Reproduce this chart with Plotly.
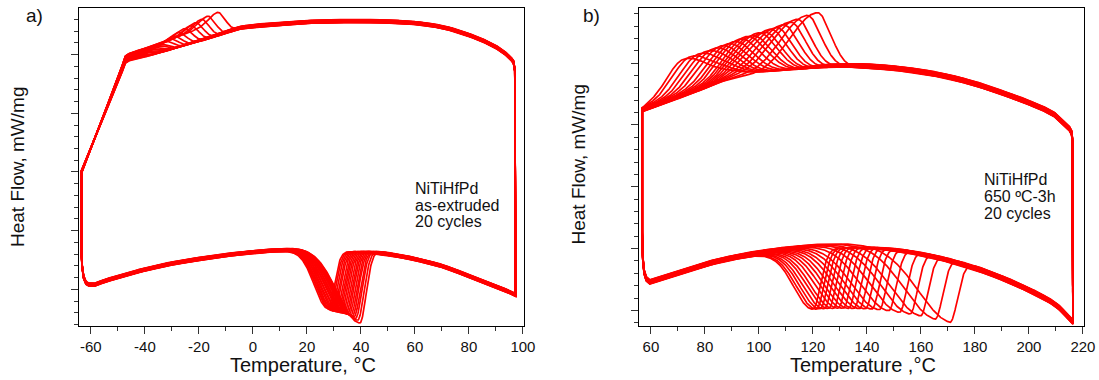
import numpy as np
import plotly.graph_objects as go

# ---------------- Panel a) NiTiHfPd as-extruded ----------------
a_heat_T = [-60.8, -59.5, -55, -50, -40, -30, -20, -10, 0, 10, 20, 30, 40, 50, 60, 70, 80, 90, 97.3]
a_heat_hf = [-1.917, -1.925, -1.857, -1.789, -1.661, -1.559, -1.482, -1.414, -1.363, -1.329, -1.312,
             -1.320, -1.346, -1.397, -1.482, -1.601, -1.772, -1.942, -2.095]
a_cool_T = [-63.5, -55, -48.5, -47, -40, -30, -20, -10, -5, 0, 10, 20, 30, 40, 50, 60, 70, 80, 90, 95, 95.8]
a_cool_hf = [0.000, 0.939, 1.657, 1.823, 1.923, 2.073, 2.225, 2.375, 2.453, 2.487, 2.521, 2.555, 2.572,
             2.572, 2.564, 2.538, 2.470, 2.334, 2.129, 1.959, 1.917]
a_left_T = [-63.5, -63.3, -62.7, -61.8]
a_left_hf = [-1.329, -1.584, -1.789, -1.891]
a_right_T = [97.0, 96.5]
a_right_hf = [1.738, 1.874]
# exothermic (cooling) peaks: temperature and peak heat flow per cycle
a_exo_T = [-13.3, -17.0, -19.3, -21.5, -23.3, -25.6, -27.8, -29.5, -31.0, -32.5, -34.0, -35.0, -36.0,
           -37.0, -38.0, -39.0, -40.0, -41.0, -42.0, -43.0]
a_exo_hf = [2.743, 2.675, 2.618, 2.560, 2.504, 2.453, 2.385, 2.320, 2.271, 2.220, 2.172, 2.140, 2.107,
            2.077, 2.044, 2.012, 1.983, 1.959, 1.935, 1.911]
# endothermic (heating) peaks: temperature and minimum heat flow per cycle
a_endo_T = [27.8, 28.4, 29.0, 29.6, 30.2, 30.8, 31.4, 32.0, 32.6, 33.2, 33.8, 34.4, 35.0, 35.6, 36.2,
            36.8, 37.4, 38.0, 38.8, 39.6]
a_endo_hf = [-2.300, -2.317, -2.334, -2.351, -2.359, -2.368, -2.376, -2.385, -2.393, -2.402, -2.411,
             -2.419, -2.428, -2.436, -2.453, -2.470, -2.487, -2.513, -2.547, -2.598]
a_endo_wl = [5.0, 5.1, 5.3, 5.4, 5.6, 5.7, 5.9, 6.0, 6.2, 6.3, 6.5, 6.6, 6.8, 6.9, 7.1, 7.3, 7.5, 7.7,
             7.9, 8.2]
a_shift = [-0.025, -0.022, -0.020, -0.017, -0.015, -0.012, -0.009, -0.007, -0.004, -0.001, 0.001,
           0.004, 0.007, 0.009, 0.012, 0.015, 0.017, 0.020, 0.022, 0.025]
a_xticks = [-60, -40, -20, 0, 20, 40, 60, 80, 100]
a_xlabels = ["-60", "-40", "-20", "0", "20", "40", "60", "80", "100"]

# ---------------- Panel b) NiTiHfPd 650 ºC-3h ----------------
b_heat_T = [59.6, 62, 65, 70, 75, 80, 85, 90, 100, 110, 120, 130, 140, 150, 160, 170, 180, 190, 200,
            210, 216.3]
b_heat_hf = [-1.540, -1.507, -1.459, -1.386, -1.321, -1.256, -1.199, -1.151, -1.070, -1.013, -0.972,
             -0.956, -0.964, -1.005, -1.078, -1.183, -1.313, -1.475, -1.669, -1.912, -2.188]
b_cool_T = [56.8, 63, 70, 80, 90, 94, 100, 110, 120, 130, 140, 150, 160, 170, 180, 190, 200, 210, 215]
b_cool_hf = [1.248, 1.345, 1.459, 1.621, 1.783, 1.807, 1.820, 1.867, 1.914, 1.959, 1.953, 1.921,
             1.864, 1.783, 1.669, 1.523, 1.361, 1.151, 0.940]
b_left_T = [56.8, 57.0, 57.5, 58.3]
b_left_hf = [-0.746, -1.151, -1.378, -1.491]
b_right_T = [216.1, 215.8]
b_right_hf = [0.762, 0.875]
b_exo_T = [121.5, 117.8, 114.1, 111.5, 108.9, 106.3, 104.1, 101.9, 100.0, 97.8, 95.9, 93.3, 90.7,
           88.1, 85.2, 82.6, 80.0, 77.4, 74.4, 71.9]
b_exo_hf = [2.853, 2.804, 2.739, 2.690, 2.642, 2.593, 2.561, 2.512, 2.496, 2.447, 2.431, 2.386, 2.340,
            2.297, 2.251, 2.206, 2.160, 2.117, 2.071, 2.026]
b_exo_wl = [10.0, 9.8, 9.6, 9.4, 9.2, 9.0, 8.8, 8.6, 8.4, 8.2, 8.0, 7.8, 7.6, 7.4, 7.2, 7.0, 6.8, 6.6,
            6.3, 6.0]
b_exo_wr = [5.0, 5.2, 5.4, 5.6, 5.8, 6.0, 6.2, 6.4, 6.6, 6.8, 7.0, 7.2, 7.4, 7.6, 7.8, 8.0, 8.2, 8.4,
            8.6, 8.8]
b_endo_T = [120.0, 121.3, 122.7, 124.2, 125.8, 127.5, 129.3, 131.2, 133.1, 135.1, 137.2, 139.4, 141.8,
            144.5, 148.0, 152.0, 155.9, 159.8, 165.2, 170.7]
b_endo_hf = [-1.945, -1.948, -1.948, -1.950, -1.950, -1.953, -1.953, -1.958, -1.963, -1.969, -1.974,
             -1.982, -1.989, -2.003, -2.024, -2.052, -2.084, -2.118, -2.173, -2.228]
b_endo_wl = [7.0, 7.3, 7.5, 7.8, 8.0, 8.3, 8.5, 8.8, 9.0, 9.3, 9.5, 9.8, 10.0, 10.3, 10.5, 10.8, 11.0,
             11.3, 11.6, 12.0]
b_shift = [-0.035, -0.031, -0.028, -0.024, -0.020, -0.017, -0.013, -0.009, -0.006, -0.002, 0.002,
           0.006, 0.009, 0.013, 0.017, 0.020, 0.024, 0.028, 0.031, 0.035]
b_xticks = [60, 80, 100, 120, 140, 160, 180, 200, 220]
b_xlabels = ["60", "80", "100", "120", "140", "160", "180", "200", "220"]


def pchip(xk, yk, x):
    xk = np.asarray(xk, float)
    yk = np.asarray(yk, float)
    x = np.asarray(x, float)
    h = np.diff(xk)
    d = np.diff(yk) / h
    m = np.zeros_like(yk)
    for k in range(1, len(xk) - 1):
        if d[k - 1] * d[k] > 0:
            w1 = 2 * h[k] + h[k - 1]
            w2 = h[k] + 2 * h[k - 1]
            m[k] = (w1 + w2) / (w1 / d[k - 1] + w2 / d[k])
    m[0] = d[0]
    m[-1] = d[-1]
    idx = np.clip(np.searchsorted(xk, x) - 1, 0, len(xk) - 2)
    t = (x - xk[idx]) / h[idx]
    h00 = 2 * t**3 - 3 * t**2 + 1
    h10 = t**3 - 2 * t**2 + t
    h01 = -2 * t**3 + 3 * t**2
    h11 = t**3 - t**2
    return h00 * yk[idx] + h10 * h[idx] * m[idx] + h01 * yk[idx + 1] + h11 * h[idx] * m[idx + 1]


def asym(T, c, wl, wr):
    return np.where(T < c, np.exp(-0.5 * ((T - c) / wl) ** 2), np.exp(-0.5 * ((T - c) / wr) ** 2))


def loop_a(i):
    Th = np.linspace(a_heat_T[0], a_heat_T[-1], 1200)
    bh = pchip(a_heat_T, a_heat_hf, Th)
    Tm = a_endo_T[i]
    D = float(pchip(a_heat_T, a_heat_hf, [Tm])[0]) - a_endo_hf[i]
    yh = bh - D * asym(Th, Tm, a_endo_wl[i], 2.3)
    Tc = np.linspace(a_cool_T[-1], a_cool_T[0], 1200)
    bc = pchip(a_cool_T, a_cool_hf, Tc)
    Tp = a_exo_T[i]
    A = a_exo_hf[i] - float(pchip(a_cool_T, a_cool_hf, [Tp])[0])
    g = np.exp(-0.5 * ((Tc - Tp) / 3.0) ** 2)
    f = 0.62
    shape = np.where(Tc < Tp, (1 - f) * g + f * np.exp(-(Tp - Tc) / 100.0), g)
    taper = np.clip((Tc - a_cool_T[0]) / (a_cool_T[3] - a_cool_T[0]), 0, 1)
    yc = bc + A * shape * taper
    x = np.concatenate([a_left_T, Th, a_right_T, Tc, a_left_T[:1]])
    y = np.concatenate([a_left_hf, yh, a_right_hf, yc, a_left_hf[:1]]) + a_shift[i]
    return x, y


def loop_b(i):
    Th = np.linspace(b_heat_T[0], b_heat_T[-1], 1200)
    bh = pchip(b_heat_T, b_heat_hf, Th)
    Tm = b_endo_T[i]
    D = float(pchip(b_heat_T, b_heat_hf, [Tm])[0]) - b_endo_hf[i]
    yh = bh - D * asym(Th, Tm, b_endo_wl[i], 2.8)
    Tc = np.linspace(b_cool_T[-1], b_cool_T[0], 1200)
    bc = pchip(b_cool_T, b_cool_hf, Tc)
    Tp = b_exo_T[i]
    A = b_exo_hf[i] - float(pchip(b_cool_T, b_cool_hf, [Tp])[0])
    taper = np.clip((Tc - b_cool_T[0]) / 3.0, 0, 1)
    yc = bc + A * asym(Tc, Tp, b_exo_wl[i], b_exo_wr[i]) * taper
    x = np.concatenate([b_left_T, Th, b_right_T, Tc, b_left_T[:1]])
    y = np.concatenate([b_left_hf, yh, b_right_hf, yc, b_left_hf[:1]]) + b_shift[i]
    return x, y


fig = go.Figure()
RED = "#ff0000"
LW = 1.7
for i in range(20):
    x, y = loop_a(i)
    fig.add_trace(go.Scatter(x=x, y=y, mode="lines", line=dict(color=RED, width=LW),
                             xaxis="x", yaxis="y", hoverinfo="skip"))
for i in range(20):
    x, y = loop_b(i)
    fig.add_trace(go.Scatter(x=x, y=y, mode="lines", line=dict(color=RED, width=LW),
                             xaxis="x2", yaxis="y2", hoverinfo="skip"))

FONT = "Liberation Sans, Arial, sans-serif"
W, H = 1099, 380


def xax(domain, rng, tv, tt):
    return dict(domain=domain, range=rng, tickmode="array", tickvals=tv, ticktext=tt,
                ticks="outside", ticklen=7, tickwidth=1, tickcolor="#333",
                minor=dict(dtick=10, ticks="outside", ticklen=4, tickwidth=1, tickcolor="#333"),
                showline=True, linecolor="black", linewidth=1, mirror=True,
                showgrid=False, zeroline=False, automargin=False,
                tickfont=dict(family=FONT, size=15, color="#111"))


def yax(domain, rng, anchor):
    return dict(domain=domain, range=rng, anchor=anchor, tick0=0, dtick=1,
                ticks="outside", ticklen=7, tickwidth=1, tickcolor="#333", showticklabels=False,
                minor=dict(dtick=0.2, tick0=0, ticks="outside", ticklen=4, tickwidth=1, tickcolor="#333"),
                showline=True, linecolor="black", linewidth=1, mirror=True,
                showgrid=False, zeroline=False, automargin=False)


ydom = [(H - 326) / H, (H - 8) / H]
fig.update_layout(
    width=W, height=H, margin=dict(l=0, r=0, t=0, b=0),
    paper_bgcolor="white", plot_bgcolor="white", showlegend=False, template="none",
    xaxis=xax([79 / W, 524 / W], [-64.4, 100.4], a_xticks, a_xlabels),
    yaxis=yax(ydom, [-2.624, 2.794], "x"),
    xaxis2=xax([639 / W, 1084 / W], [55.6, 220.4], b_xticks, b_xlabels) | dict(anchor="y2"),
    yaxis2=yax(ydom, [-2.253, 2.893], "x2"),
)


def ann(text, xpx, ypx, size, xanchor="center", angle=0):
    fig.add_annotation(text=text, x=xpx / W, y=1 - ypx / H, xref="paper", yref="paper",
                       xanchor=xanchor, yanchor="middle", showarrow=False, textangle=angle,
                       font=dict(family=FONT, size=size, color="#111"))


ann("a)", 34, 15, 19)
ann("b)", 591, 15, 19)
ann("Heat Flow, mW/mg", 17.5, 167.5, 19, angle=-90)
ann("Heat Flow, mW/mg", 577.5, 165, 19, angle=-90)
ann("Temperature, °C", 302.5, 365, 20)
ann("Temperature ,°C", 862.5, 365, 20)
ann("NiTiHfPd", 413, 188.3, 16, "left")
ann("as-extruded", 413, 205, 16, "left")
ann("20 cycles", 413, 221.7, 16, "left")
ann("NiTiHfPd", 981.7, 179, 16, "left")
ann("650 ºC-3h", 981.7, 196, 16, "left")
ann("20 cycles", 981.7, 213, 16, "left")

fig.write_html("out.html")
